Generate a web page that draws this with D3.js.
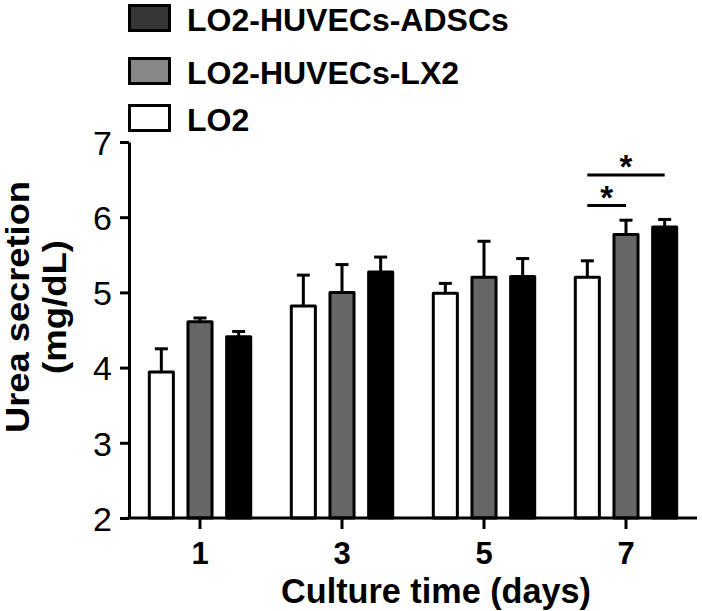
<!DOCTYPE html>
<html>
<head>
<meta charset="utf-8">
<script src="https://cdn.jsdelivr.net/npm/d3@7"></script>
<style>
  html, body { margin: 0; padding: 0; background: #fff; }
  svg { display: block; font-family: "Liberation Sans", Arial, sans-serif; }
</style>
</head>
<body>
<svg id="chart" width="702" height="611"></svg>
<script>
// ---- data ----
const days = ["1", "3", "5", "7"];
const series = ["LO2", "LO2-HUVECs-LX2", "LO2-HUVECs-ADSCs"];
const lo2Mean   = [3.94, 4.82, 4.99, 5.20];
const lo2Err    = [0.31, 0.41, 0.13, 0.22];
const lx2Mean   = [4.61, 5.00, 5.20, 5.77];
const lx2Err    = [0.05, 0.37, 0.48, 0.19];
const adscMean  = [4.41, 5.27, 5.21, 5.87];
const adscErr   = [0.07, 0.20, 0.24, 0.10];
const yTicks = [2, 3, 4, 5, 6, 7];
const legendOrder = ["LO2-HUVECs-ADSCs", "LO2-HUVECs-LX2", "LO2"];
const sigPairs = [
  { day: "7", from: "LO2", to: "LO2-HUVECs-LX2", label: "*" },
  { day: "7", from: "LO2", to: "LO2-HUVECs-ADSCs", label: "*" }
];

const means = { "LO2": lo2Mean, "LO2-HUVECs-LX2": lx2Mean, "LO2-HUVECs-ADSCs": adscMean };
const errs  = { "LO2": lo2Err,  "LO2-HUVECs-LX2": lx2Err,  "LO2-HUVECs-ADSCs": adscErr };
const barFill = { "LO2": "#ffffff", "LO2-HUVECs-LX2": "#666666", "LO2-HUVECs-ADSCs": "#000000" };
const swatchFill = { "LO2": "#ffffff", "LO2-HUVECs-LX2": "#878787", "LO2-HUVECs-ADSCs": "#363636" };

const rows = [];
days.forEach((d, i) => series.forEach(s => rows.push({ day: d, s, v: means[s][i], e: errs[s][i] })));

// ---- layout ----
const svg = d3.select("#chart");
const mLeft = 129, mRight = 697, mTop = 142, mBottom = 518;

const x0 = d3.scaleBand().domain(days).range([mLeft, mRight]).padding(0);
const x1 = d3.scaleBand().domain(series).range([-58, 58]).paddingInner(0.3).paddingOuter(0.15);
const y = d3.scaleLinear().domain([2, 7]).range([mBottom, mTop]);

const cx = (d, s) => x0(d) + x0.bandwidth() / 2 + x1(s) + x1.bandwidth() / 2;

// bars
svg.append("g").selectAll("rect").data(rows).join("rect")
  .attr("x", d => cx(d.day, d.s) - x1.bandwidth() / 2 + 1.5)
  .attr("y", d => y(d.v))
  .attr("width", x1.bandwidth() - 3)
  .attr("height", d => y(2) - y(d.v))
  .attr("fill", d => barFill[d.s])
  .attr("stroke", "#000")
  .attr("stroke-width", 3)
  .attr("stroke-linejoin", "round");

// error bars
const eg = svg.append("g").attr("stroke", "#000").attr("stroke-width", 3);
eg.selectAll("line.v").data(rows).join("line").attr("class", "v")
  .attr("x1", d => cx(d.day, d.s)).attr("x2", d => cx(d.day, d.s))
  .attr("y1", d => y(d.v)).attr("y2", d => y(d.v + d.e));
eg.selectAll("line.c").data(rows).join("line").attr("class", "c")
  .attr("x1", d => cx(d.day, d.s) - 6.5).attr("x2", d => cx(d.day, d.s) + 6.5)
  .attr("y1", d => y(d.v + d.e)).attr("y2", d => y(d.v + d.e));

// axes
const yAxis = svg.append("g").attr("transform", `translate(${mLeft},0)`)
  .call(d3.axisLeft(y).tickValues(yTicks).tickFormat(d3.format("d")).tickSize(9).tickSizeOuter(0).tickPadding(8));
yAxis.selectAll("path, line").attr("stroke", "#000").attr("stroke-width", 3);
yAxis.selectAll("text").attr("font-size", 34).attr("font-family", "Liberation Sans, Arial, sans-serif").attr("fill", "#000").attr("dy", "0.36em");

const xAxis = svg.append("g").attr("transform", `translate(0,${mBottom})`)
  .call(d3.axisBottom(x0).tickSize(11).tickSizeOuter(0).tickPadding(13));
xAxis.select("path").attr("d", `M${mLeft - 1.5},0H${mRight}`);
xAxis.selectAll("path, line").attr("stroke", "#000").attr("stroke-width", 3);
xAxis.selectAll("text").attr("font-size", 31).attr("font-weight", "bold").attr("font-family", "Liberation Sans, Arial, sans-serif").attr("fill", "#000");

// axis titles
svg.append("text").attr("x", 436).attr("y", 603).attr("text-anchor", "middle")
  .attr("font-size", 35).attr("font-weight", "bold")
  .attr("textLength", 310).attr("lengthAdjust", "spacingAndGlyphs")
  .text("Culture time (days)");
const yt = svg.append("g").attr("transform", "translate(0,307) rotate(-90)");
yt.append("text").attr("x", 0).attr("y", 29).attr("text-anchor", "middle")
  .attr("font-size", 33).attr("font-weight", "bold")
  .attr("textLength", 252).attr("lengthAdjust", "spacingAndGlyphs")
  .text("Urea secretion");
yt.append("text").attr("x", 0).attr("y", 66).attr("text-anchor", "middle")
  .attr("font-size", 33).attr("font-weight", "bold")
  .attr("textLength", 134).attr("lengthAdjust", "spacingAndGlyphs")
  .text("(mg/dL)");

// significance
const sg = svg.append("g");
const sigY = [205.5, 175];
sigPairs.forEach((p, i) => {
  const xa = cx(p.day, p.from), xb = cx(p.day, p.to);
  sg.append("line").attr("x1", xa).attr("x2", xb).attr("y1", sigY[i]).attr("y2", sigY[i])
    .attr("stroke", "#000").attr("stroke-width", 3);
  sg.append("text").attr("x", (xa + xb) / 2).attr("y", sigY[i] + 3).attr("text-anchor", "middle")
    .attr("font-size", 33).attr("font-weight", "bold").text(p.label);
});

// legend
const lg = svg.append("g");
const legY = [4, 57, 104];
legendOrder.forEach((s, i) => {
  lg.append("rect").attr("x", 129.5).attr("y", legY[i] + 1.5).attr("width", 40).attr("height", 25)
    .attr("fill", swatchFill[s]).attr("stroke", "#000").attr("stroke-width", 3);
  lg.append("text").attr("x", 187).attr("y", legY[i] + 26.5)
    .attr("font-size", 32).attr("font-weight", "bold").text(s);
});
</script>
</body>
</html>
